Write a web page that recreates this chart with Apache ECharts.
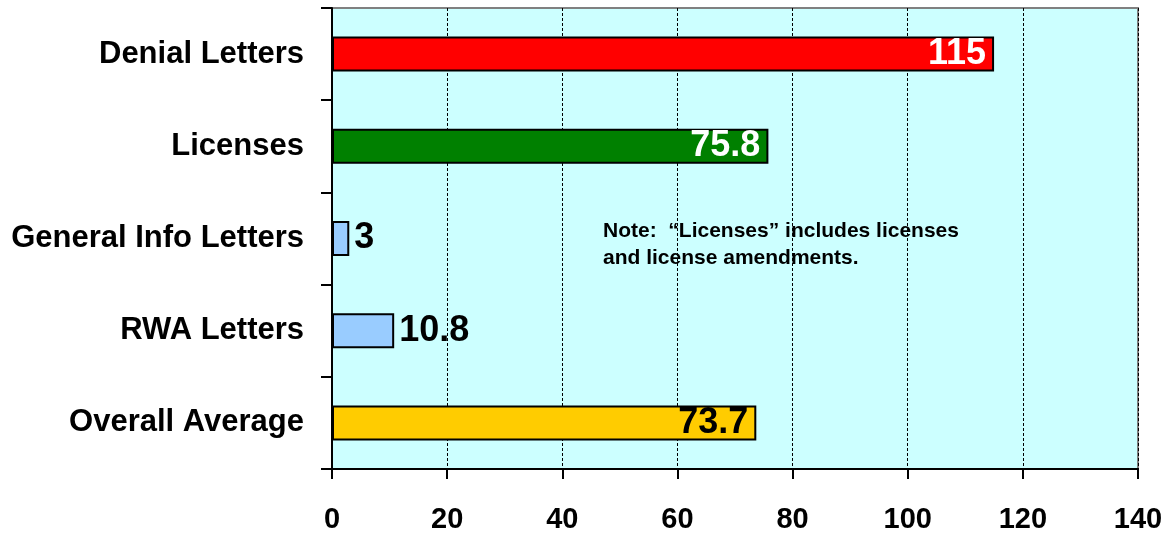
<!DOCTYPE html>
<html>
<head>
<meta charset="utf-8">
<script src="https://cdn.jsdelivr.net/npm/echarts@6/dist/echarts.min.js"></script>
<style>html,body{margin:0;padding:0;background:#fff;}#c{width:1172px;height:535px;}</style>
</head>
<body>
<div id="c"></div>
<script>
var categories = ["Denial Letters", "Licenses", "General Info Letters", "RWA Letters", "Overall Average"];
var values = [115, 75.8, 3, 10.8, 73.7];
var barColors = ["#FF0000", "#008000", "#99CCFF", "#99CCFF", "#FFCC00"];
var labelColors = ["#FFFFFF", "#FFFFFF", "#000000", "#000000", "#000000"];
var labelInside = [true, true, false, false, true];
var xTicks = [0, 20, 40, 60, 80, 100, 120, 140];
var noteLines = ["Note:  \u201cLicenses\u201d includes licenses", "and license amendments."];

var font = "Arial, 'Liberation Sans', sans-serif";
var chart = echarts.init(document.getElementById('c'));
var data = values.map(function (v, i) {
  return {
    value: v,
    itemStyle: { color: barColors[i] },
    label: {
      show: true,
      position: labelInside[i] ? 'insideRight' : 'right',
      distance: labelInside[i] ? 8 : 5,
      color: labelColors[i],
      fontSize: 36,
      fontWeight: 'bold',
      fontFamily: font,
      padding: [6, 0, 0, 0]
    }
  };
});
chart.setOption({
  animation: false,
  backgroundColor: '#FFFFFF',
  grid: {
    left: 332, right: 34, top: 8, bottom: 66,
    show: true, backgroundColor: '#CCFFFF', borderColor: '#808080', borderWidth: 2
  },
  xAxis: {
    type: 'value', min: xTicks[0], max: xTicks[xTicks.length - 1], interval: 20,
    axisLine: { show: true, onZero: false, lineStyle: { color: '#000', width: 2 } },
    axisTick: { show: true, length: 10, lineStyle: { color: '#000', width: 2 } },
    axisLabel: { color: '#000', fontSize: 29, fontWeight: 'bold', fontFamily: font, margin: 36 },
    splitLine: { show: true, lineStyle: { color: '#000', width: 1, type: [3, 2] } }
  },
  yAxis: {
    type: 'category', data: categories, inverse: true,
    axisLine: { show: true, lineStyle: { color: '#000', width: 2 } },
    axisTick: { show: true, length: 11, lineStyle: { color: '#000', width: 2 } },
    axisLabel: { color: '#000', fontSize: 31, fontWeight: 'bold', fontFamily: font, margin: 28, padding: [7, 0, 0, 0] },
    splitLine: { show: false }
  },
  series: [{
    type: 'bar', data: data, barWidth: '38%',
    itemStyle: { borderColor: '#000', borderWidth: 2 }
  }],
  graphic: [{
    type: 'text', left: 603, top: 218,
    style: { text: noteLines.join('\n'), fill: '#000', font: "bold 21px Arial, 'Liberation Sans', sans-serif", lineHeight: 27 }
  }]
});
</script>
</body>
</html>
